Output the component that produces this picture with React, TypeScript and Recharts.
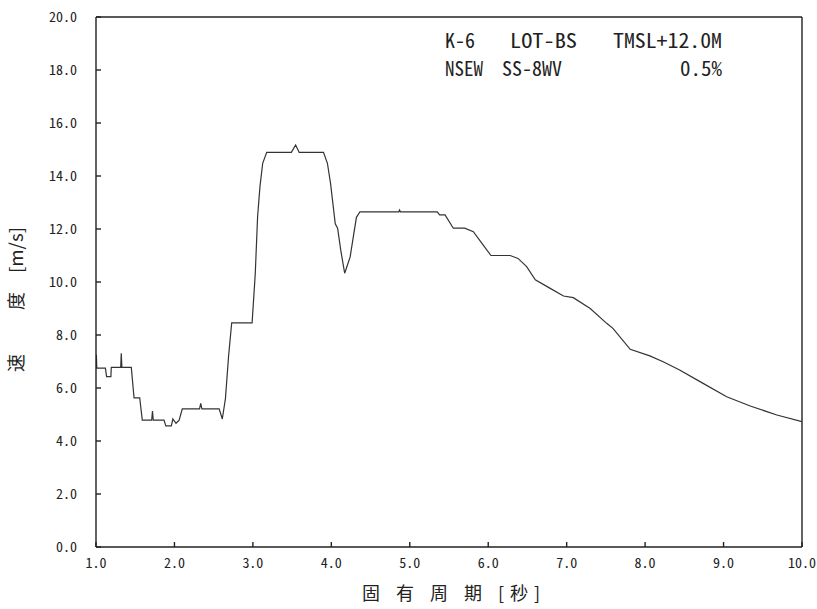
import { CartesianGrid, Line, LineChart, ReferenceLine, XAxis, YAxis } from "recharts";

// 固有周期 [秒]
const periods = [
  1.0, 1.005, 1.01, 1.12, 1.135, 1.19, 1.195, 1.315, 1.322, 1.33, 1.45, 1.485, 1.557, 1.59, 1.71, 1.72, 1.73,
  1.867, 1.89, 1.96, 1.98, 2.02, 2.06, 2.1, 2.32, 2.335, 2.35, 2.57, 2.61, 2.65, 2.69, 2.73, 2.99, 3.03, 3.06,
  3.09, 3.125, 3.176, 3.49, 3.545, 3.59, 3.9, 3.95, 3.99, 4.05, 4.08, 4.12, 4.17, 4.24, 4.28, 4.32, 4.365, 4.86,
  4.87, 4.88, 5.35, 5.38, 5.45, 5.555, 5.7, 5.81, 5.92, 6.035, 6.28, 6.38, 6.49, 6.6, 6.79, 6.96, 7.085, 7.3,
  7.51, 7.59, 7.81, 8.06, 8.23, 8.44, 8.7, 9.04, 9.34, 9.68, 10.0,
];

// 速度 [m/s]
const velocities = [
  6.75, 7.25, 6.75, 6.75, 6.43, 6.43, 6.78, 6.78, 7.31, 6.78, 6.78, 5.63, 5.63, 4.79, 4.79, 5.13, 4.79,
  4.79, 4.57, 4.57, 4.83, 4.67, 4.79, 5.21, 5.21, 5.42, 5.21, 5.21, 4.83, 5.6, 7.2, 8.46, 8.46, 10.3, 12.46,
  13.6, 14.48, 14.89, 14.89, 15.17, 14.89, 14.89, 14.48, 13.72, 12.2, 12.03, 11.2, 10.33, 10.95, 11.7, 12.44,
  12.65, 12.65, 12.72, 12.65, 12.65, 12.53, 12.53, 12.03, 12.03, 11.9, 11.46, 11.0, 11.0, 10.89, 10.58, 10.08,
  9.76, 9.47, 9.41, 9.0, 8.44, 8.25, 7.46, 7.21, 6.99, 6.68, 6.24, 5.67, 5.32, 4.98, 4.73,
];

const xTicks = [1, 2, 3, 4, 5, 6, 7, 8, 9, 10];
const yTicks = [0, 2, 4, 6, 8, 10, 12, 14, 16, 18, 20];

const data = periods.map((p, i) => ({ period: p, velocity: velocities[i] }));

const FONT = '"Noto Sans CJK JP", "Noto Sans", sans-serif';
const MONO = '"Noto Sans Mono CJK JP", "DejaVu Sans Mono", monospace';
const INK = "#222";

export default function App() {
  return (
    <div style={{ position: "absolute", left: 0, top: 0, width: 817, height: 609, background: "#fff" }}>
      <LineChart width={817} height={609} data={data} margin={{ top: 17, right: 15, left: 0, bottom: 0 }}>
        <CartesianGrid vertical={false} horizontal={false} />
        <XAxis
          type="number"
          dataKey="period"
          domain={[1, 10]}
          ticks={xTicks}
          allowDataOverflow
          tickFormatter={(v: number) => v.toFixed(1)}
          height={62}
          tickSize={-5}
          tickMargin={16}
          stroke={INK}
          strokeWidth={1.4}
          tick={{ fill: INK, fontSize: 14, fontFamily: MONO }}
        />
        <YAxis
          type="number"
          domain={[0, 20]}
          ticks={yTicks}
          allowDataOverflow
          tickFormatter={(v: number) => v.toFixed(1)}
          width={96}
          tickSize={-5}
          tickMargin={24}
          stroke={INK}
          strokeWidth={1.4}
          tick={{ fill: INK, fontSize: 14, fontFamily: MONO }}
        />
        <ReferenceLine y={20} stroke={INK} strokeWidth={1.4} />
        <ReferenceLine x={10} stroke={INK} strokeWidth={1.4} />
        <Line
          type="linear"
          dataKey="velocity"
          stroke="#333"
          strokeWidth={1.2}
          dot={false}
          isAnimationActive={false}
        />
      </LineChart>
      <svg
        width={817}
        height={609}
        style={{ position: "absolute", left: 0, top: 0, pointerEvents: "none" }}
        fontFamily={FONT}
        fill={INK}
      >
        <g fontSize={20} fontFamily={MONO}>
          <text x={445} y={48} textLength={30} lengthAdjust="spacingAndGlyphs">K-6</text>
          <text x={510} y={48} textLength={67} lengthAdjust="spacingAndGlyphs">LOT-BS</text>
          <text x={613} y={48} textLength={109} lengthAdjust="spacingAndGlyphs">TMSL+12.0M</text>
          <text x={445} y={76} textLength={38} lengthAdjust="spacingAndGlyphs">NSEW</text>
          <text x={502} y={76} textLength={60} lengthAdjust="spacingAndGlyphs">SS-8WV</text>
          <text x={680} y={76} textLength={42} lengthAdjust="spacingAndGlyphs">0.5%</text>
        </g>
        <text x={362} y={600} fontSize={18} textLength={178} lengthAdjust="spacing">
          固 有 周 期 [秒]
        </text>
        <g fontSize={18}>
          <text transform="translate(23 372) rotate(-90)">速</text>
          <text transform="translate(23 310) rotate(-90)">度</text>
          <text transform="translate(23 273) rotate(-90)" textLength={46} lengthAdjust="spacingAndGlyphs">
            [m/s]
          </text>
        </g>
      </svg>
    </div>
  );
}
